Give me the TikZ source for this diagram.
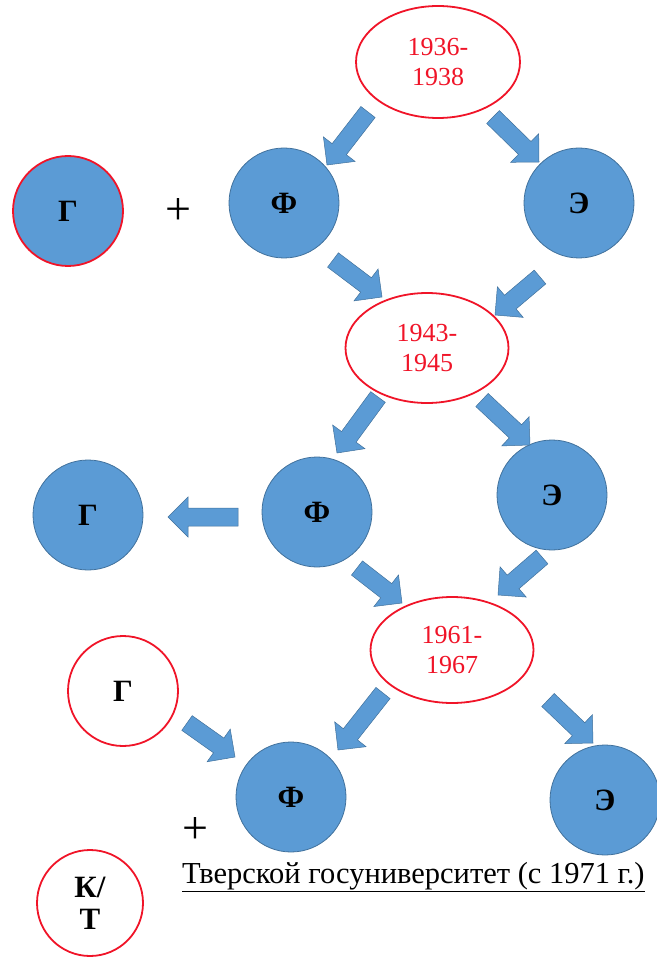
\documentclass[tikz,border=0pt]{standalone}
\usepackage{fontspec}
\setmainfont{Liberation Serif}
\usetikzlibrary{shapes.geometric,calc}
\definecolor{cfill}{HTML}{5B9BD5}
\definecolor{cedge}{HTML}{41719C}
\definecolor{cred}{RGB}{240,20,40}
\tikzset{
  bluecirc/.style={circle,fill=cfill,draw=cedge,line width=0.8pt,minimum size=110pt,inner sep=0pt,
    font=\bfseries\fontsize{31}{34}\selectfont},
  redbluecirc/.style={bluecirc,draw=cred,line width=1.8pt},
  redcirc/.style={circle,fill=white,draw=cred,line width=1.8pt,minimum size=110pt,inner sep=0pt,
    font=\bfseries\fontsize{31}{32}\selectfont,align=center},
  period/.style={ellipse,draw=cred,line width=1.8pt,fill=white,inner sep=0pt,text=cred,
    font=\fontsize{26}{30}\selectfont,align=center},
  plussign/.style={inner sep=0pt,font=\fontsize{46}{46}\selectfont},
  arrowfill/.style={fill=cfill,draw=cedge,line width=0.5pt,line join=miter}
}
\newcommand\blockarrow[2]{%
  \coordinate (ba-s) at (#1);
  \coordinate (ba-e) at (#2);
  \coordinate (ba-h) at ($(ba-e)!20pt!(ba-s)$);
  \path[arrowfill] ($(ba-s)!9pt!90:(ba-e)$) -- ($(ba-h)!9pt!-90:(ba-s)$) -- ($(ba-h)!20pt!-90:(ba-s)$)
    -- (ba-e) -- ($(ba-h)!20pt!90:(ba-s)$) -- ($(ba-h)!9pt!90:(ba-s)$) -- ($(ba-s)!9pt!-90:(ba-e)$) -- cycle;
}
\begin{document}
\begin{tikzpicture}[x=1pt,y=-1pt]
\useasboundingbox (0,0) rectangle (656,957);
% row 1
\node[period,minimum width=164pt,minimum height=112pt] (e1) at (438,62) {1936-\\1938};
\node[redbluecirc] (g1) at (68,211) {Г};
\node[plussign] (p1) at (178,212) {+};
\node[bluecirc] (f1) at (284,203) {Ф};
\node[bluecirc] (s1) at (579,203) {Э};
% row 2
\node[period,minimum width=163pt,minimum height=110pt] (e2) at (427,348) {1943-\\1945};
\node[bluecirc] (g2) at (88,515) {Г};
\node[bluecirc] (f2) at (317,512) {Ф};
\node[bluecirc] (s2) at (552,495) {Э};
% row 3
\node[period,minimum width=163pt,minimum height=106pt] (e3) at (452,650) {1961-\\1967};
\node[redcirc] (g3) at (123,691) {Г};
\node[bluecirc] (f3) at (291,797) {Ф};
\node[bluecirc] (s3) at (605,800) {Э};
\node[plussign] (p2) at (195,830) {+};
\node[redcirc,minimum size=106pt] (kt) at (90,903) {К/\\Т};
\node[anchor=base west,inner sep=0pt,font=\fontsize{30.5}{32}\selectfont] (tgu) at (182,883) {\underline{Тверской госуниверситет (с 1971 г.)}};
% arrow end points
\coordinate (a1s) at (368,112); \coordinate (a1e) at (327,165);
\coordinate (a2s) at (493,117); \coordinate (a2e) at (539,162);
\coordinate (a3s) at (333,260); \coordinate (a3e) at (382,297);
\coordinate (a4s) at (540,277); \coordinate (a4e) at (495,315);
\coordinate (a5s) at (378,397); \coordinate (a5e) at (337,453);
\coordinate (a6s) at (482,400); \coordinate (a6e) at (530,445);
\coordinate (a7s) at (238,517); \coordinate (a7e) at (168,517);
\coordinate (a8s) at (357,568); \coordinate (a8e) at (402,603);
\coordinate (a9s) at (542,557); \coordinate (a9e) at (498,595);
\coordinate (a10s) at (187,723); \coordinate (a10e) at (235,757);
\coordinate (a11s) at (383,693); \coordinate (a11e) at (338,750);
\coordinate (a12s) at (548,700); \coordinate (a12e) at (593,743);
\blockarrow{a1s}{a1e}
\blockarrow{a2s}{a2e}
\blockarrow{a3s}{a3e}
\blockarrow{a4s}{a4e}
\blockarrow{a5s}{a5e}
\blockarrow{a6s}{a6e}
\blockarrow{a7s}{a7e}
\blockarrow{a8s}{a8e}
\blockarrow{a9s}{a9e}
\blockarrow{a10s}{a10e}
\blockarrow{a11s}{a11e}
\blockarrow{a12s}{a12e}
\end{tikzpicture}
\end{document}
